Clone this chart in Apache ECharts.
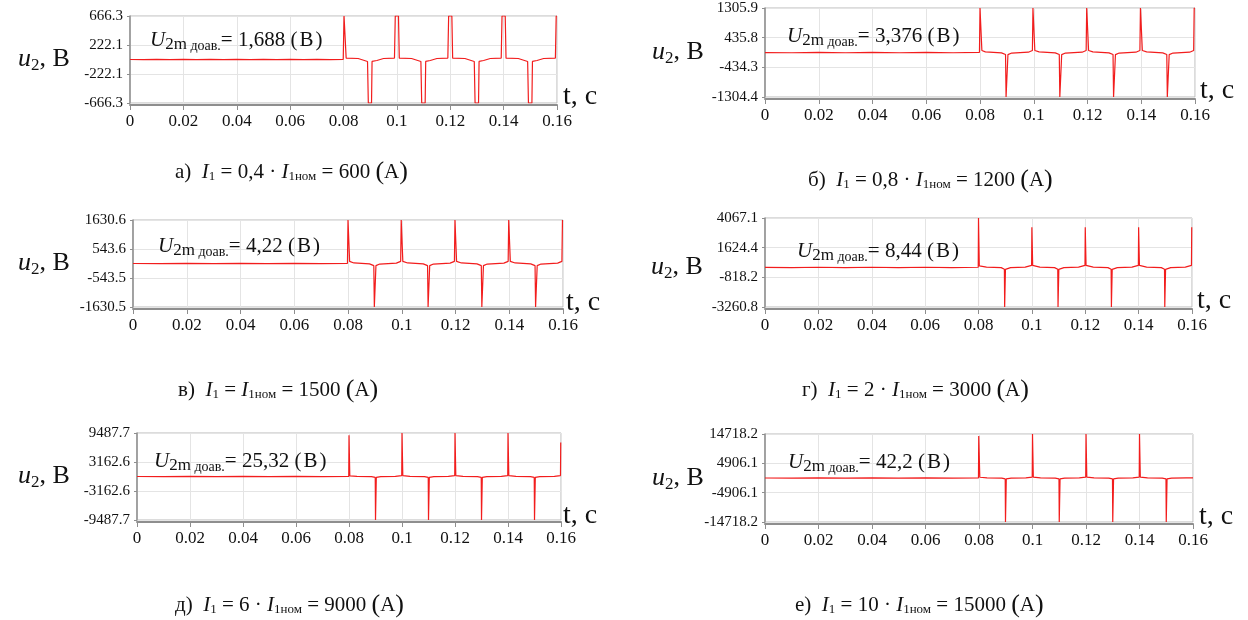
<!DOCTYPE html>
<html><head><meta charset="utf-8">
<script src="https://cdn.jsdelivr.net/npm/echarts@6/dist/echarts.min.js"></script>
<style>html,body{margin:0;padding:0;background:#fff}#c{width:1248px;height:620px}</style>
</head><body><div id="c"></div>
<script>
// ---------- data ----------
const xTicks = [0, 0.02, 0.04, 0.06, 0.08, 0.1, 0.12, 0.14, 0.16];
const xTickLabels = ['0', '0.02', '0.04', '0.06', '0.08', '0.1', '0.12', '0.14', '0.16'];

const yTicksA = [-666.3, -222.1, 222.1, 666.3];
const yLabelsA = ['-666.3', '-222.1', '222.1', '666.3'];
const yTicksB = [-1304.4, -434.3, 435.8, 1305.9];
const yLabelsB = ['-1304.4', '-434.3', '435.8', '1305.9'];
const yTicksC = [-1630.5, -543.5, 543.6, 1630.6];
const yLabelsC = ['-1630.5', '-543.5', '543.6', '1630.6'];
const yTicksD = [-3260.8, -818.2, 1624.4, 4067.1];
const yLabelsD = ['-3260.8', '-818.2', '1624.4', '4067.1'];
const yTicksE = [-9487.7, -3162.6, 3162.6, 9487.7];
const yLabelsE = ['-9487.7', '-3162.6', '3162.6', '9487.7'];
const yTicksF = [-14718.2, -4906.1, 4906.1, 14718.2];
const yLabelsF = ['-14718.2', '-4906.1', '4906.1', '14718.2'];

// u2(t), [t (s), u2 (V)]
const uA = [
[0,0],[0.005,-2],[0.01,2],[0.015,-2],[0.02,2],[0.025,-2],[0.03,2],[0.035,-2],[0.04,2],[0.045,-2],[0.05,2],[0.055,-2],[0.06,2],[0.065,-2],[0.07,2],[0.075,-2],[0.0799,3],
[0.0802,666.3],[0.0808,666.3],[0.0810,20],[0.0855,15],[0.0890,-30],
[0.0893,-666.3],[0.0905,-666.3],[0.0907,-30],[0.0925,-15],[0.0950,15],[0.0991,22],
[0.0994,666.3],[0.1006,666.3],[0.1009,20],[0.1055,15],[0.1090,-30],
[0.1093,-666.3],[0.1106,-666.3],[0.1108,-30],[0.1125,-15],[0.1150,15],[0.1191,22],
[0.1194,666.3],[0.1206,666.3],[0.1209,20],[0.1255,15],[0.1290,-30],
[0.1293,-666.3],[0.1306,-666.3],[0.1308,-30],[0.1325,-15],[0.1350,15],[0.1391,22],
[0.1394,666.3],[0.1406,666.3],[0.1409,20],[0.1455,15],[0.1490,-30],
[0.1493,-666.3],[0.1506,-666.3],[0.1508,-30],[0.1525,-15],[0.1550,15],[0.1594,22],
[0.1597,666.3],[0.1600,666.3]
];
const uB = [
[0,0],[0.01,-6],[0.02,6],[0.03,-6],[0.04,6],[0.05,-6],[0.06,6],[0.07,-6],[0.0798,5],
[0.0800,1305.9],[0.0805,1305.9],[0.0807,60],[0.0820,20],[0.0880,-10],[0.0895,-60],
[0.0897,-1304.4],[0.0902,-1304.4],[0.0904,-60],[0.0918,-15],[0.0980,10],[0.0995,60],
[0.0997,1305.9],[0.1002,1305.9],[0.1004,60],[0.1020,20],[0.1080,-10],[0.1095,-60],
[0.1097,-1304.4],[0.1102,-1304.4],[0.1104,-60],[0.1118,-15],[0.1180,10],[0.1195,60],
[0.1197,1305.9],[0.1202,1305.9],[0.1204,60],[0.1220,20],[0.1280,-10],[0.1295,-60],
[0.1297,-1304.4],[0.1302,-1304.4],[0.1304,-60],[0.1318,-15],[0.1380,10],[0.1395,60],
[0.1397,1305.9],[0.1402,1305.9],[0.1404,60],[0.1420,20],[0.1480,-10],[0.1495,-60],
[0.1497,-1304.4],[0.1502,-1304.4],[0.1504,-60],[0.1518,-15],[0.1580,10],[0.1595,60],
[0.1597,1305.9],[0.1600,1305.9]
];
const uC = [
[0,0],[0.01,-8],[0.02,8],[0.03,-8],[0.04,8],[0.05,-8],[0.06,8],[0.07,-8],[0.0798,6],
[0.0800,1630.6],[0.0804,1630.6],[0.0806,80],[0.0822,20],[0.0880,-15],[0.0896,-80],
[0.0898,-1630.5],[0.0902,-1630.5],[0.0904,-80],[0.0918,-20],[0.0980,15],[0.0996,80],
[0.0998,1630.6],[0.1002,1630.6],[0.1004,80],[0.1022,20],[0.1080,-15],[0.1096,-80],
[0.1098,-1630.5],[0.1102,-1630.5],[0.1104,-80],[0.1118,-20],[0.1180,15],[0.1196,80],
[0.1198,1630.6],[0.1202,1630.6],[0.1204,80],[0.1222,20],[0.1280,-15],[0.1296,-80],
[0.1298,-1630.5],[0.1302,-1630.5],[0.1304,-80],[0.1318,-20],[0.1380,15],[0.1396,80],
[0.1398,1630.6],[0.1402,1630.6],[0.1404,80],[0.1422,20],[0.1480,-15],[0.1496,-80],
[0.1498,-1630.5],[0.1502,-1630.5],[0.1504,-80],[0.1518,-20],[0.1580,15],[0.1596,80],
[0.1598,1630.6],[0.1600,1630.6]
];
const uD = [
[0,0],[0.01,-12],[0.02,12],[0.03,-12],[0.04,12],[0.05,-12],[0.06,12],[0.07,-12],[0.0799,10],
[0.0800,4067.1],[0.0802,4067.1],[0.0803,120],[0.0830,20],[0.0885,-20],[0.0897,-160],
[0.0898,-3260.8],[0.0900,-3260.8],[0.0901,-160],[0.0920,-20],[0.0975,20],[0.0999,160],
[0.1000,3300],[0.1002,3300],[0.1003,160],[0.1030,20],[0.1085,-20],[0.1097,-160],
[0.1098,-3260.8],[0.1100,-3260.8],[0.1101,-160],[0.1120,-20],[0.1175,20],[0.1199,160],
[0.1200,3300],[0.1202,3300],[0.1203,160],[0.1230,20],[0.1285,-20],[0.1297,-160],
[0.1298,-3260.8],[0.1300,-3260.8],[0.1301,-160],[0.1320,-20],[0.1375,20],[0.1399,160],
[0.1400,3300],[0.1402,3300],[0.1403,160],[0.1430,20],[0.1485,-20],[0.1497,-160],
[0.1498,-3260.8],[0.1500,-3260.8],[0.1501,-160],[0.1520,-20],[0.1575,20],[0.1598,160],
[0.1599,3300],[0.1600,3300]
];
const uE = [
[0,0],[0.01,-30],[0.02,30],[0.03,-30],[0.04,30],[0.05,-30],[0.06,30],[0.07,-30],[0.0799,20],
[0.0800,8985],[0.0802,8985],[0.0803,150],[0.0830,40],[0.0885,-40],[0.0899,-200],
[0.0900,-9487.7],[0.0902,-9487.7],[0.0903,-200],[0.0920,-40],[0.0975,40],[0.0999,200],
[0.1000,9487.7],[0.1002,9487.7],[0.1003,200],[0.1030,40],[0.1085,-40],[0.1099,-200],
[0.1100,-9487.7],[0.1102,-9487.7],[0.1103,-200],[0.1120,-40],[0.1175,40],[0.1199,200],
[0.1200,9487.7],[0.1202,9487.7],[0.1203,200],[0.1230,40],[0.1285,-40],[0.1299,-200],
[0.1300,-9487.7],[0.1302,-9487.7],[0.1303,-200],[0.1320,-40],[0.1375,40],[0.1399,200],
[0.1400,9487.7],[0.1402,9487.7],[0.1403,200],[0.1430,40],[0.1485,-40],[0.1499,-200],
[0.1500,-9487.7],[0.1502,-9487.7],[0.1503,-200],[0.1520,-40],[0.1575,40],[0.1598,200],
[0.1599,7400],[0.1600,7400]
];
const uF = [
[0,0],[0.01,-50],[0.02,50],[0.03,-50],[0.04,50],[0.05,-50],[0.06,50],[0.07,-50],[0.0798,30],
[0.0799,14052],[0.0802,14052],[0.0803,250],[0.0830,60],[0.0885,-60],[0.0898,-300],
[0.0899,-14718.2],[0.0901,-14718.2],[0.0902,-300],[0.0920,-60],[0.0975,60],[0.0999,300],
[0.1000,14718.2],[0.1002,14718.2],[0.1003,300],[0.1030,60],[0.1085,-60],[0.1099,-300],
[0.1100,-14718.2],[0.1102,-14718.2],[0.1103,-300],[0.1120,-60],[0.1175,60],[0.1199,300],
[0.1200,14718.2],[0.1202,14718.2],[0.1203,300],[0.1230,60],[0.1285,-60],[0.1299,-300],
[0.1300,-14718.2],[0.1302,-14718.2],[0.1303,-300],[0.1320,-60],[0.1375,60],[0.1399,300],
[0.1400,14718.2],[0.1402,14718.2],[0.1403,300],[0.1430,60],[0.1485,-60],[0.1499,-300],
[0.1500,-14718.2],[0.1502,-14718.2],[0.1503,-300],[0.1520,-60],[0.1575,60],[0.1600,40]
];

const u2mValues = ['1,688', '3,376', '4,22', '8,44', '25,32', '42,2'];
const captionLetters = ['а)', 'б)', 'в)', 'г)', 'д)', 'е)'];
const captionFactors = ['0,4 · ', '0,8 · ', '', '2 · ', '6 · ', '10 · '];
const captionCurrents = ['600', '1200', '1500', '3000', '9000', '15000'];

const panels = [
  { data: uA, ticks: yTicksA, labels: yLabelsA },
  { data: uB, ticks: yTicksB, labels: yLabelsB },
  { data: uC, ticks: yTicksC, labels: yLabelsC },
  { data: uD, ticks: yTicksD, labels: yLabelsD },
  { data: uE, ticks: yTicksE, labels: yLabelsE },
  { data: uF, ticks: yTicksF, labels: yLabelsF }
];

// ---------- layout ----------
const layout = [
  { left: 130, top: 16, width: 427, height: 87, uy: 59, ux: 18, ax: 150, ay: 40, tx: 563, ty: 97, cx: 175, cy: 172 },
  { left: 765, top: 8, width: 430, height: 89, uy: 52, ux: 652, ax: 787, ay: 36, tx: 1200, ty: 91, cx: 808, cy: 180 },
  { left: 133, top: 220, width: 430, height: 87, uy: 263, ux: 18, ax: 158, ay: 246, tx: 566, ty: 303, cx: 178, cy: 390 },
  { left: 765, top: 218, width: 427, height: 89, uy: 267, ux: 651, ax: 797, ay: 251, tx: 1197, ty: 301, cx: 802, cy: 390 },
  { left: 137, top: 433, width: 424, height: 87, uy: 476, ux: 18, ax: 154, ay: 461, tx: 563, ty: 516, cx: 175, cy: 605 },
  { left: 765, top: 434, width: 428, height: 88, uy: 478, ux: 652, ax: 788, ay: 462, tx: 1199, ty: 517, cx: 795, cy: 605 }
];

const SERIF = '"Liberation Serif", "DejaVu Serif", serif';
const GRID_C = '#e4e4e4';
const AXIS_C = '#8e8e8e';

const grids = [], xAxes = [], yAxes = [], series = [], graphics = [];

function nearestLabel(v, ticks, labels) {
  let bi = 0, bd = Infinity;
  ticks.forEach((t, i) => { const d = Math.abs(t - v); if (d < bd) { bd = d; bi = i; } });
  return labels[bi];
}

panels.forEach((p, i) => {
  const L = layout[i];
  grids.push({ left: L.left, top: L.top, width: L.width, height: L.height, show: true, borderColor: '#b8b8b8', borderWidth: 1, backgroundColor: '#fff' });
  xAxes.push({
    gridIndex: i, type: 'value', min: 0, max: 0.16, interval: 0.02, offset: 2,
    axisLine: { show: true, onZero: false, lineStyle: { color: AXIS_C, width: 2 } },
    axisTick: { show: true, length: 5, lineStyle: { color: AXIS_C, width: 1 } },
    axisLabel: { fontFamily: SERIF, fontSize: 17, color: '#111', margin: 8,
      formatter: v => nearestLabel(v, xTicks, xTickLabels) },
    splitLine: { show: true, lineStyle: { color: GRID_C, width: 1 } }
  });
  yAxes.push({
    gridIndex: i, type: 'value', min: p.ticks[0], max: p.ticks[p.ticks.length - 1],
    axisLine: { show: true, onZero: false, lineStyle: { color: AXIS_C, width: 1.5 } },
    axisTick: { show: true, length: 3, customValues: p.ticks, lineStyle: { color: AXIS_C } },
    axisLabel: { customValues: p.ticks, fontFamily: SERIF, fontSize: 15, color: '#111', margin: 7,
      formatter: v => nearestLabel(v, p.ticks, p.labels) },
    splitLine: { show: true, lineStyle: { color: GRID_C, width: 1 } }
  });
  series.push({
    type: 'line', xAxisIndex: i, yAxisIndex: i, data: p.data,
    showSymbol: false, symbol: 'none', animation: false, clip: true,
    lineStyle: { color: '#f21d1d', width: 1.2 }
  });

  // y label u2, B
  graphics.push({ type: 'text', x: L.ux, y: L.uy, style: {
    text: '{i|u}{s|2}{n|, B}', verticalAlign: 'middle', textVerticalAlign: 'middle', align: 'left', textAlign: 'left',
    rich: {
      i: { fontFamily: SERIF, fontStyle: 'italic', fontSize: 26, fill: '#111', color: '#111' },
      s: { fontFamily: SERIF, fontSize: 17, padding: [13, 0, 0, 0], fill: '#111', color: '#111' },
      n: { fontFamily: SERIF, fontSize: 26, fill: '#111', color: '#111' }
    } } });
  // t, c
  graphics.push({ type: 'text', x: L.tx, y: L.ty, style: {
    text: 't, c', font: '28px ' + SERIF, fill: '#111', verticalAlign: 'middle', textVerticalAlign: 'middle' } });
  // annotation
  graphics.push({ type: 'text', x: L.ax, y: L.ay, z: 100, style: {
    text: '{u|U}{s|2m}{d| доав.}{n|= ' + u2mValues[i] + ' (}{b|В}{n|)}', verticalAlign: 'middle', textVerticalAlign: 'middle',
    rich: {
      u: { fontFamily: SERIF, fontStyle: 'italic', fontSize: 21, fill: '#111', color: '#111' },
      s: { fontFamily: SERIF, fontSize: 17, padding: [9, 0, 0, 0], fill: '#111', color: '#111' },
      d: { fontFamily: SERIF, fontSize: 14, padding: [12, 0, 0, 0], fill: '#111', color: '#111' },
      n: { fontFamily: SERIF, fontSize: 21, fill: '#111', color: '#111' },
      b: { fontFamily: SERIF, fontSize: 21, padding: [0, 2, 0, 2], fill: '#111', color: '#111' }
    } } });
  // caption
  const cap = '{n|' + captionLetters[i] + '  }{i|I}{s|1}{n| = ' + captionFactors[i] + '}{i|I}{s|1ном}{n| = ' + captionCurrents[i] + ' }{p|(}{n|А}{p|)}';
  graphics.push({ type: 'text', x: L.cx, y: L.cy, style: {
    text: cap, verticalAlign: 'middle', textVerticalAlign: 'middle',
    rich: {
      n: { fontFamily: SERIF, fontSize: 21, fill: '#111', color: '#111' },
      i: { fontFamily: SERIF, fontStyle: 'italic', fontSize: 21, fill: '#111', color: '#111' },
      s: { fontFamily: SERIF, fontSize: 13, padding: [9, 0, 0, 0], fill: '#111', color: '#111' },
      p: { fontFamily: SERIF, fontSize: 26, fill: '#111', color: '#111' }
    } } });
});

const chart = echarts.init(document.getElementById('c'), null, { renderer: 'canvas' });
chart.setOption({
  animation: false,
  backgroundColor: '#fff',
  grid: grids, xAxis: xAxes, yAxis: yAxes, series: series,
  graphic: { elements: graphics }
});
</script></body></html>
